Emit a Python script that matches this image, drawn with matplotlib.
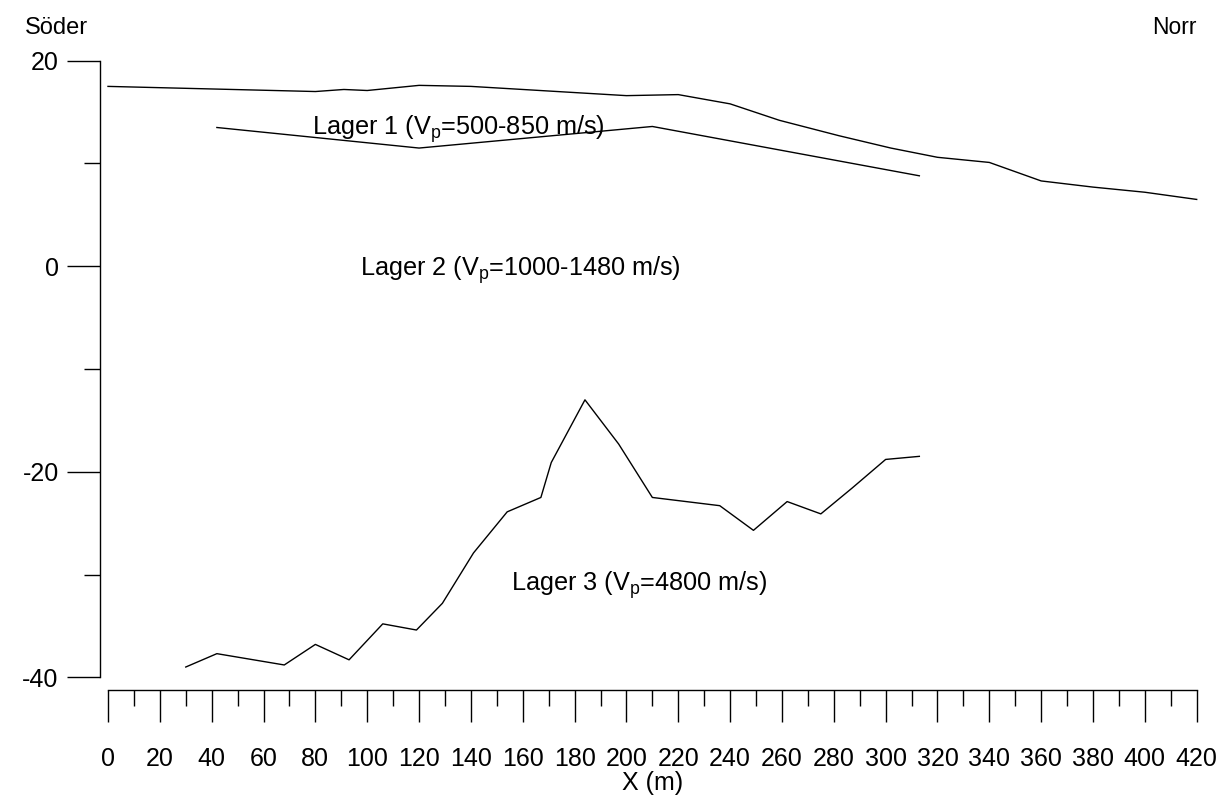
import matplotlib
matplotlib.use("Agg")
import matplotlib.pyplot as plt
from matplotlib.ticker import MultipleLocator

plt.rcParams["font.family"] = ["Liberation Sans", "DejaVu Sans"]
plt.rcParams["mathtext.fontset"] = "custom"
plt.rcParams["mathtext.rm"] = "Liberation Sans"
plt.rcParams["mathtext.it"] = "Liberation Sans"
plt.rcParams["axes.unicode_minus"] = False

# Markyta (surface)
surface_x = [0, 80, 91, 100, 120, 140, 200, 220, 240, 259, 282, 302, 320, 340, 360, 380, 400, 420]
surface_y = [17.5, 17.0, 17.2, 17.1, 17.6, 17.5, 16.6, 16.7, 15.8, 14.2, 12.7, 11.5, 10.6, 10.1, 8.3, 7.7, 7.2, 6.5]

# Gräns lager 1 / lager 2
layer1_x = [42, 120, 210, 313]
layer1_y = [13.5, 11.5, 13.6, 8.8]

# Bergyta (lager 3)
rock_x = [30, 42, 68, 80, 93, 106, 119, 129, 141, 154, 167, 171, 184, 197, 210, 236, 249, 262, 275, 287, 300, 313]
rock_y = [-39.0, -37.7, -38.8, -36.8, -38.3, -34.8, -35.4, -32.8, -27.9, -23.9, -22.5, -19.1,
          -13.0, -17.3, -22.5, -23.3, -25.7, -22.9, -24.1, -21.6, -18.8, -18.5]

labels = ["Lager 1 (V$_\\mathrm{p}$=500-850 m/s)",
          "Lager 2 (V$_\\mathrm{p}$=1000-1480 m/s)",
          "Lager 3 (V$_\\mathrm{p}$=4800 m/s)"]
label_pos = [(78.6, 12.75), (97.2, -0.97), (155.4, -31.6)]

fig = plt.figure(figsize=(12.21, 8.0), dpi=100)
ax = fig.add_axes([0.08845, 0.15338, 0.89165, 0.770745])

lw = 1.0
ax.plot(surface_x, surface_y, color="black", lw=lw, clip_on=False)
ax.plot(layer1_x, layer1_y, color="black", lw=lw, clip_on=False)
ax.plot(rock_x, rock_y, color="black", lw=lw, clip_on=False)

for txt, (x, y) in zip(labels, label_pos):
    ax.text(x, y, txt, fontsize=18.2, ha="left", va="baseline")

ax.set_xlim(0, 420)
ax.set_ylim(-40, 20)

for s in ["top", "right"]:
    ax.spines[s].set_visible(False)
ax.spines["left"].set_position(("outward", 5.5))
ax.spines["bottom"].set_position(("outward", 9.1))
ax.spines["left"].set_bounds(-40, 20)
ax.spines["bottom"].set_bounds(0, 420)
for s in ["left", "bottom"]:
    ax.spines[s].set_linewidth(1.0)

ax.xaxis.set_major_locator(MultipleLocator(20))
ax.xaxis.set_minor_locator(MultipleLocator(10))
ax.yaxis.set_major_locator(MultipleLocator(20))
ax.yaxis.set_minor_locator(MultipleLocator(10))

ax.tick_params(axis="x", which="major", direction="out", length=23, width=1.0, pad=18, labelsize=18)
ax.tick_params(axis="x", which="minor", direction="out", length=11.5, width=1.0)
ax.tick_params(axis="y", which="major", direction="out", length=24, width=1.0, pad=6, labelsize=18)
ax.tick_params(axis="y", which="minor", direction="out", length=11.5, width=1.0)

ax.set_xlabel("X (m)", fontsize=18, labelpad=0)

fig.text(25 / 1221, 1 - 28 / 800, "Söder", fontsize=17, ha="left", va="center")
fig.text(1197 / 1221, 1 - 28 / 800, "Norr", fontsize=16.5, ha="right", va="center")

fig.savefig("out.png", dpi=100)
